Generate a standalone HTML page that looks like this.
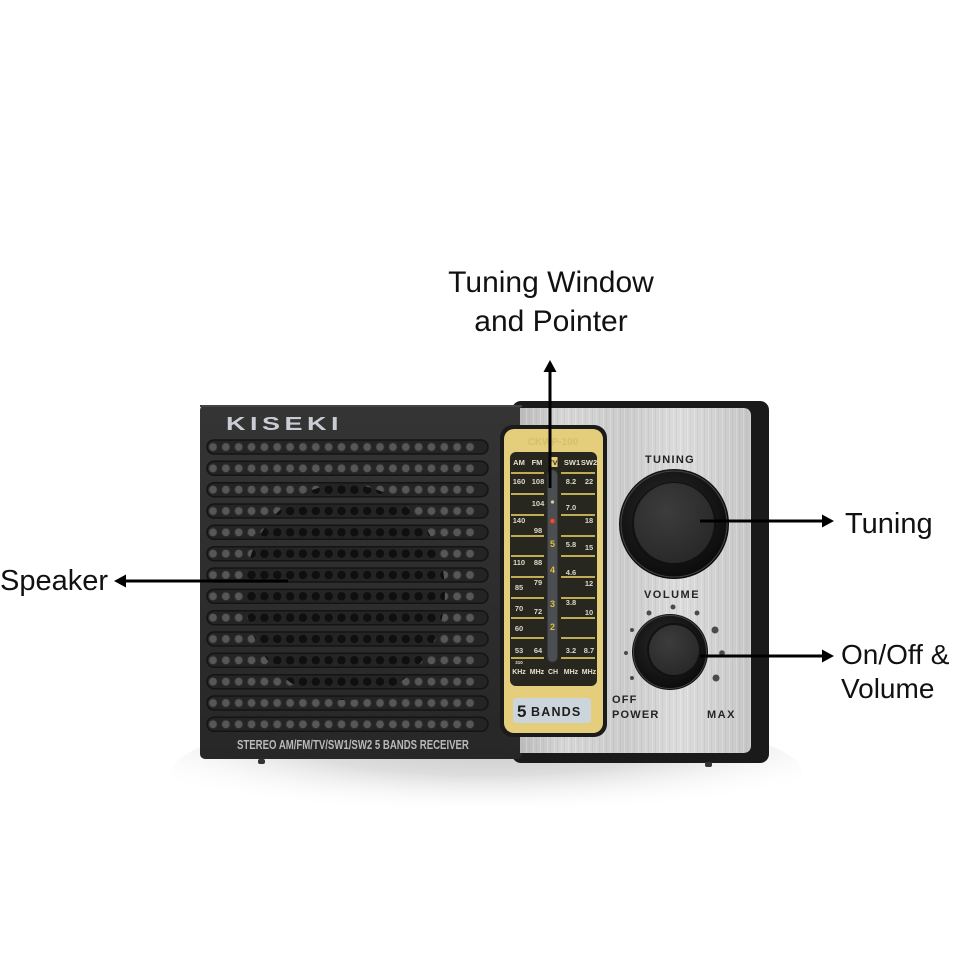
<!DOCTYPE html>
<html><head><meta charset="utf-8"><style>
html,body{margin:0;padding:0;background:#fff;}
svg{display:block;}
</style></head><body>
<svg width="962" height="962" viewBox="0 0 962 962" xmlns="http://www.w3.org/2000/svg" font-family="'Liberation Sans', Arial, sans-serif">
<defs>
  <radialGradient id="shadow" cx="0.5" cy="0.2" r="0.65">
    <stop offset="0" stop-color="#c4c4c4"/>
    <stop offset="0.5" stop-color="#dddddd"/>
    <stop offset="1" stop-color="#ffffff" stop-opacity="0"/>
  </radialGradient>
  <linearGradient id="silver" x1="0" y1="0" x2="1" y2="0">
    <stop offset="0" stop-color="#bcbcbc"/>
    <stop offset="0.2" stop-color="#d6d6d6"/>
    <stop offset="0.45" stop-color="#cbcbcb"/>
    <stop offset="0.7" stop-color="#dcdcdc"/>
    <stop offset="1" stop-color="#c6c6c6"/>
  </linearGradient>
  <pattern id="streak" x="0" y="0" width="7" height="40" patternUnits="userSpaceOnUse">
    <rect x="1" y="0" width="1" height="40" fill="#ffffff" opacity="0.22"/>
    <rect x="4" y="0" width="1" height="40" fill="#9a9a9a" opacity="0.15"/>
  </pattern>
  <linearGradient id="body" x1="0" y1="0" x2="0" y2="1">
    <stop offset="0" stop-color="#343434"/>
    <stop offset="1" stop-color="#272727"/>
  </linearGradient>
  <pattern id="hg" x="206.6" y="436.35" width="12.85" height="21.33" patternUnits="userSpaceOnUse">
    <circle cx="6.4" cy="10.65" r="4.3" fill="#575757" stroke="#2c2c2c" stroke-width="1"/>
  </pattern>
  <pattern id="hd" x="206.6" y="436.35" width="12.85" height="21.33" patternUnits="userSpaceOnUse">
    <circle cx="6.4" cy="10.65" r="4.4" fill="#0f0f0f"/>
  </pattern>
  <clipPath id="cone"><ellipse cx="345" cy="592" rx="100" ry="108"/></clipPath>
  <radialGradient id="knob" cx="0.45" cy="0.4" r="0.6">
    <stop offset="0" stop-color="#2c2c2c"/>
    <stop offset="1" stop-color="#0b0b0b"/>
  </radialGradient>
  <radialGradient id="knobin" cx="0.4" cy="0.35" r="0.7">
    <stop offset="0" stop-color="#3c3c3c"/>
    <stop offset="1" stop-color="#282828"/>
  </radialGradient>
</defs>

<!-- shadow -->
<ellipse cx="487" cy="772" rx="315" ry="60" fill="url(#shadow)"/>

<!-- right frame -->
<rect x="512" y="401" width="257" height="362" rx="9" fill="#1a1a1a"/>
<!-- left body -->
<rect x="200" y="405" width="322" height="354" rx="5" fill="url(#body)"/>
<rect x="200" y="405" width="322" height="2" fill="#444"/>
<!-- silver panel -->
<path d="M520 408 H743 Q751 408 751 416 V745 Q751 753 743 753 H520 Z" fill="url(#silver)"/>
<path d="M520 408 H743 Q751 408 751 416 V745 Q751 753 743 753 H520 Z" fill="url(#streak)"/>

<!-- KISEKI -->
<text x="0" y="0" transform="translate(226,430) scale(1.5,1)" font-size="18" font-weight="bold" letter-spacing="3" fill="#c9cdd3">KISEKI</text>

<!-- grille bars -->
<g fill="#242424" stroke="#141414" stroke-width="1.5">
  <rect x="207" y="440" width="281" height="14" rx="7"/>
  <rect x="207" y="461.3" width="281" height="14" rx="7"/>
  <rect x="207" y="482.7" width="281" height="14" rx="7"/>
  <rect x="207" y="504" width="281" height="14" rx="7"/>
  <rect x="207" y="525.3" width="281" height="14" rx="7"/>
  <rect x="207" y="546.7" width="281" height="14" rx="7"/>
  <rect x="207" y="568" width="281" height="14" rx="7"/>
  <rect x="207" y="589.3" width="281" height="14" rx="7"/>
  <rect x="207" y="610.7" width="281" height="14" rx="7"/>
  <rect x="207" y="632" width="281" height="14" rx="7"/>
  <rect x="207" y="653.3" width="281" height="14" rx="7"/>
  <rect x="207" y="674.7" width="281" height="14" rx="7"/>
  <rect x="207" y="696" width="281" height="14" rx="7"/>
  <rect x="207" y="717.3" width="281" height="14" rx="7"/>
</g>
<rect x="206.6" y="436.35" width="269.85" height="298.6" fill="url(#hg)"/>
<rect x="206.6" y="436.35" width="269.85" height="298.6" fill="url(#hd)" clip-path="url(#cone)"/>

<!-- bottom text -->
<text x="0" y="0" transform="translate(237,749) scale(0.74,1)" font-size="13" font-weight="bold" fill="#b9b9b9">STEREO AM/FM/TV/SW1/SW2 5 BANDS RECEIVER</text>

<!-- feet -->
<rect x="258" y="759" width="7" height="5" rx="2" fill="#333"/>
<rect x="705" y="762" width="7" height="5" rx="2" fill="#333"/>

<!-- tuning window -->
<rect x="500" y="425" width="107" height="312" rx="13" fill="#1b1b1b"/>
<rect x="504" y="429" width="99" height="304" rx="10" fill="#e4ce7c"/>
<text x="553" y="445" text-anchor="middle" font-size="10" font-weight="bold" fill="#d6bf6a">CKWP-100</text>
<rect x="510" y="452" width="87" height="234" rx="6" fill="#27261f"/>
<!-- header -->
<g font-size="7.5" font-weight="bold" fill="#e8e2cc" text-anchor="middle">
  <text x="519" y="465">AM</text>
  <text x="537" y="465">FM</text>
  <rect x="548.5" y="457" width="9" height="10" fill="#e4ce7c"/>
  <text x="553" y="465" fill="#27261f" font-size="6.5">TV</text>
  <text x="572" y="465">SW1</text>
  <text x="589" y="465">SW2</text>
</g>
<!-- strip -->
<rect x="547.5" y="470" width="10" height="192" rx="5" fill="#4b4f53" stroke="#35383b" stroke-width="1"/>
<!-- yellow lines -->
<g stroke="#d7bf5c" stroke-width="1.8">
  <line x1="511" y1="473" x2="544" y2="473"/><line x1="561" y1="473" x2="595" y2="473"/>
  <line x1="511" y1="494" x2="544" y2="494"/><line x1="561" y1="494" x2="595" y2="494"/>
  <line x1="511" y1="515" x2="544" y2="515"/><line x1="561" y1="515" x2="595" y2="515"/>
  <line x1="511" y1="536" x2="544" y2="536"/><line x1="561" y1="536" x2="595" y2="536"/>
  <line x1="511" y1="556" x2="544" y2="556"/><line x1="561" y1="556" x2="595" y2="556"/>
  <line x1="511" y1="577" x2="544" y2="577"/><line x1="561" y1="577" x2="595" y2="577"/>
  <line x1="511" y1="598" x2="544" y2="598"/><line x1="561" y1="598" x2="595" y2="598"/>
  <line x1="511" y1="618" x2="544" y2="618"/><line x1="561" y1="618" x2="595" y2="618"/>
  <line x1="511" y1="638" x2="544" y2="638"/><line x1="561" y1="638" x2="595" y2="638"/>
  <line x1="511" y1="658" x2="544" y2="658"/><line x1="561" y1="658" x2="595" y2="658"/>
</g>
<g font-size="7.5" font-weight="bold" fill="#dcd8c6" text-anchor="middle">
  <text x="519" y="484">160</text><text x="519" y="523">140</text><text x="519" y="565">110</text>
  <text x="519" y="590">85</text><text x="519" y="611">70</text><text x="519" y="631">60</text><text x="519" y="653">53</text>
  <text x="538" y="484">108</text><text x="538" y="506">104</text><text x="538" y="533">98</text>
  <text x="538" y="565">88</text><text x="538" y="585">79</text><text x="538" y="614">72</text><text x="538" y="653">64</text>
  <text x="571" y="484">8.2</text><text x="571" y="510">7.0</text><text x="571" y="547">5.8</text>
  <text x="571" y="575">4.6</text><text x="571" y="605">3.8</text><text x="571" y="653">3.2</text>
  <text x="589" y="484">22</text><text x="589" y="523">18</text><text x="589" y="550">15</text>
  <text x="589" y="586">12</text><text x="589" y="615">10</text><text x="589" y="653">8.7</text>
</g>
<g font-size="9" font-weight="bold" fill="#dcbf3c" text-anchor="middle">
  <text x="552.5" y="547">5</text><text x="552.5" y="573">4</text>
  <text x="552.5" y="607">3</text><text x="552.5" y="630">2</text>
</g>
<circle cx="552.5" cy="502" r="1.6" fill="#d8cf9a"/>
<circle cx="552.5" cy="521" r="3.5" fill="#a33a25" opacity="0.6"/>
<circle cx="552.5" cy="521" r="2" fill="#e0553a"/>
<g font-size="7" font-weight="bold" fill="#e8e2cc" text-anchor="middle">
  <text x="519" y="664" font-size="4.5">310</text>
  <text x="519" y="674">KHz</text><text x="537" y="674">MHz</text><text x="553" y="674">CH</text>
  <text x="571" y="674">MHz</text><text x="589" y="674">MHz</text>
</g>
<!-- 5 BANDS -->
<rect x="513" y="698" width="78" height="25" rx="3" fill="#ccd4dc"/>
<text x="517" y="717" font-size="17" font-weight="bold" fill="#1d1d1d">5</text>
<text x="531" y="716" font-size="12.5" font-weight="bold" letter-spacing="1.2" fill="#1d1d1d">BANDS</text>

<!-- silver labels -->
<g font-size="11" font-weight="bold" fill="#242424">
  <text x="670" y="463" text-anchor="middle" letter-spacing="1.3">TUNING</text>
  <text x="672" y="598" text-anchor="middle" letter-spacing="1.5">VOLUME</text>
  <text x="612" y="703" letter-spacing="1.2">OFF</text>
  <text x="612" y="718" letter-spacing="1.2">POWER</text>
  <text x="707" y="718" letter-spacing="1.5">MAX</text>
</g>

<!-- tuning knob -->
<circle cx="674" cy="524" r="55" fill="url(#knob)"/>
<circle cx="674" cy="524" r="53" fill="none" stroke="#444" stroke-width="1"/>
<circle cx="674" cy="524" r="42" fill="#111"/>
<circle cx="674" cy="523" r="40" fill="url(#knobin)"/>

<!-- volume dots -->
<g fill="#4a4a4a">
  <circle cx="649" cy="613" r="2.5"/><circle cx="673" cy="607" r="2.5"/><circle cx="697" cy="613" r="2.5"/>
  <circle cx="715" cy="630" r="3.5"/><circle cx="722" cy="653" r="2.8"/><circle cx="716" cy="678" r="3.5"/>
  <circle cx="632" cy="630" r="2"/><circle cx="626" cy="653" r="2"/><circle cx="632" cy="678" r="2"/>
</g>
<!-- volume knob -->
<circle cx="670" cy="652" r="38" fill="url(#knob)"/>
<circle cx="670" cy="652" r="36.5" fill="none" stroke="#444" stroke-width="1"/>
<circle cx="674" cy="650" r="27" fill="#111"/>
<circle cx="674" cy="650" r="25" fill="url(#knobin)"/>

<!-- connectors -->
<g stroke="#000" stroke-width="3">
  <line x1="550" y1="370" x2="550" y2="488"/>
  <line x1="700" y1="521" x2="825" y2="521"/>
  <line x1="700" y1="656" x2="825" y2="656"/>
  <line x1="288" y1="581" x2="123" y2="581"/>
</g>
<g fill="#000">
  <polygon points="550,360 543.5,372 556.5,372"/>
  <polygon points="834,521 822,514.5 822,527.5"/>
  <polygon points="834,656 822,649.5 822,662.5"/>
  <polygon points="114,581 126,574.5 126,587.5"/>
</g>

<!-- labels -->
<g fill="#111" font-family="'Liberation Sans', Arial, sans-serif">
  <text x="551" y="292" text-anchor="middle" font-size="30">Tuning Window</text>
  <text x="551" y="331" text-anchor="middle" font-size="30">and Pointer</text>
  <text x="845" y="533" font-size="29">Tuning</text>
  <text x="841" y="664" font-size="28">On/Off &amp;</text>
  <text x="841" y="698" font-size="28">Volume</text>
  <text x="0" y="590" font-size="29">Speaker</text>
</g>
</svg>
</body></html>
